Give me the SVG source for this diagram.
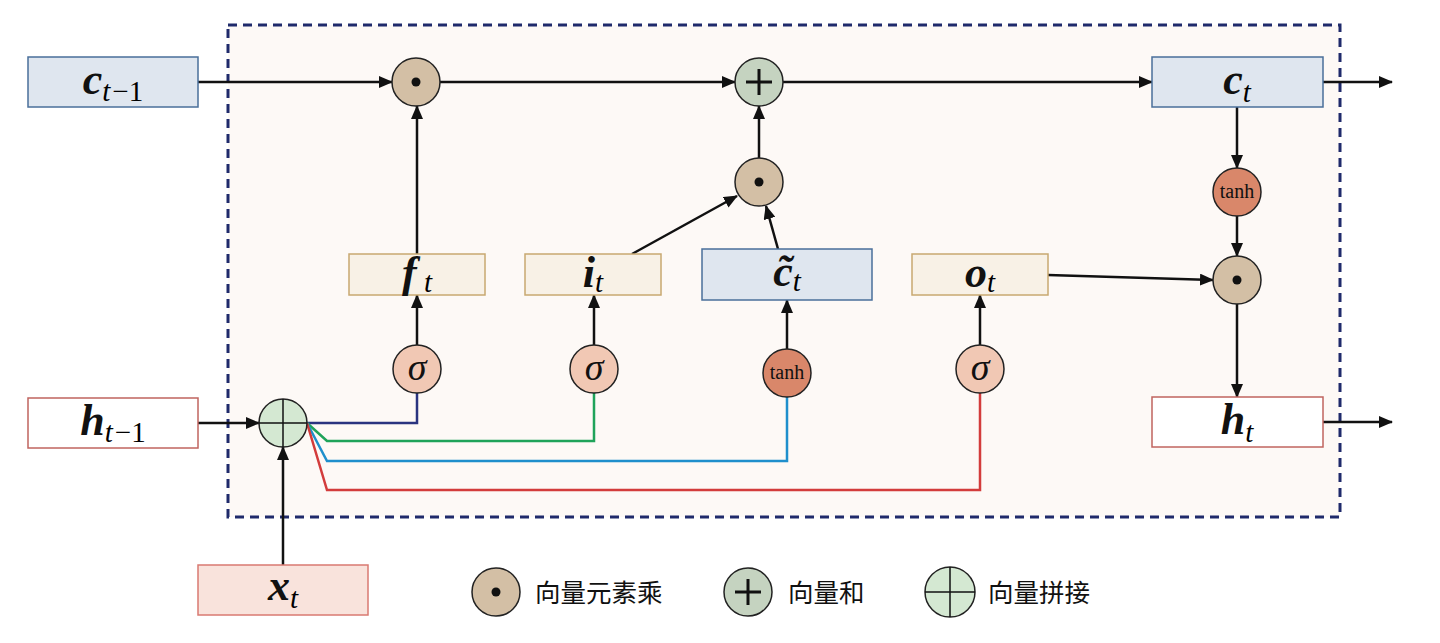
<svg xmlns="http://www.w3.org/2000/svg" width="1440" height="643" viewBox="0 0 1440 643">
<defs>
<marker id="ah" markerWidth="14" markerHeight="12" refX="13" refY="6" orient="auto" markerUnits="userSpaceOnUse">
<path d="M0,0 L14,6 L0,12 Z" fill="#111"/>
</marker>
<style>
.frame{fill:#fdf9f6;stroke:#1f2a6b;stroke-width:3;stroke-dasharray:9,6}
.blue{fill:#dfe6ef;stroke:#4a6f9a;stroke-width:1.5}
.gate{fill:#f8f1e6;stroke:#c8a870;stroke-width:1.5}
.hbox{fill:#ffffff;stroke:#c0645f;stroke-width:1.5}
.xbox{fill:#f9e3dc;stroke:#d97a72;stroke-width:1.5}
.mul{fill:#d3bfa5;stroke:#222;stroke-width:1.5}
.add{fill:#c5d3c0;stroke:#222;stroke-width:1.5}
.cat{fill:#d4e8d2;stroke:#222;stroke-width:1.5}
.sig{fill:#f1c8b4;stroke:#222;stroke-width:1.5}
.tanh{fill:#d9876a;stroke:#222;stroke-width:1.5}
.ar{stroke:#111;stroke-width:2.5;fill:none;marker-end:url(#ah)}
.ln{stroke-width:2.5;fill:none}
.m{font-family:"Liberation Serif","DejaVu Serif",serif;font-weight:bold;font-style:italic;font-size:44px;fill:#111}
.s{font-family:"Liberation Serif","DejaVu Serif",serif;font-style:italic;font-weight:normal;font-size:29px}
.su{font-family:"Liberation Serif","DejaVu Serif",serif;font-style:normal;font-weight:normal;font-size:29px}
.t{font-family:"Liberation Serif","DejaVu Serif",serif;font-size:20px;fill:#111}
.g{font-family:"Liberation Serif","DejaVu Serif",serif;font-style:italic;font-size:38px;fill:#111}
.leg{font-family:"Noto Sans CJK SC","Liberation Sans",sans-serif;font-size:25.5px;fill:#111}
.dot{fill:#111}
.sym{stroke:#111;stroke-width:3}
.symt{stroke:#111;stroke-width:1.5}
</style>
</defs>
<rect class="frame" x="228" y="25" width="1112" height="492"/>
<g id="connectors">
<line class="ar" x1="198" y1="82" x2="392" y2="82"/>
<line class="ar" x1="440" y1="82" x2="735" y2="82"/>
<line class="ar" x1="783" y1="82" x2="1152" y2="82"/>
<line class="ar" x1="1323" y1="82" x2="1392" y2="82"/>
<line class="ar" x1="417" y1="254" x2="417" y2="106"/>
<line class="ar" x1="417" y1="345" x2="417" y2="295"/>
<line class="ar" x1="594" y1="345" x2="594" y2="295"/>
<line class="ar" x1="787" y1="349" x2="787" y2="300"/>
<line class="ar" x1="980" y1="345" x2="980" y2="295"/>
<line class="ar" x1="632" y1="254" x2="737" y2="196"/>
<line class="ar" x1="778" y1="249" x2="766" y2="206"/>
<line class="ar" x1="759" y1="158" x2="759" y2="106"/>
<line class="ar" x1="1048" y1="275" x2="1213" y2="280"/>
<line class="ar" x1="1237" y1="107" x2="1237" y2="168"/>
<line class="ar" x1="1237" y1="216" x2="1237" y2="256"/>
<line class="ar" x1="1237" y1="304" x2="1237" y2="397"/>
<line class="ar" x1="1323" y1="422" x2="1392" y2="422"/>
<line class="ar" x1="198" y1="423" x2="259" y2="423"/>
<line class="ar" x1="283" y1="565" x2="283" y2="447"/>
<polyline class="ln" stroke="#2a3480" points="307,423 417,423 417,393"/>
<polyline class="ln" stroke="#1fa35a" points="307,423 327,441 594,441 594,393"/>
<polyline class="ln" stroke="#1f8fcc" points="307,423 327,461 787,461 787,397"/>
<polyline class="ln" stroke="#d33c3c" points="307,423 327,490 980,490 980,393"/>
</g>
<g id="c_prev"><rect class="blue" x="28" y="57" width="170" height="50"/><text x="113" y="94" text-anchor="middle"><tspan class="m">c</tspan><tspan class="s" dy="7">t</tspan><tspan class="su" dx="2">−1</tspan></text></g>
<g id="h_prev"><rect class="hbox" x="28" y="398" width="170" height="50"/><text x="113" y="435" text-anchor="middle"><tspan class="m">h</tspan><tspan class="s" dy="7">t</tspan><tspan class="su" dx="2">−1</tspan></text></g>
<g id="x_t"><rect class="xbox" x="198" y="565" width="170" height="50"/><text x="283" y="600" text-anchor="middle"><tspan class="m">x</tspan><tspan class="s" dy="8">t</tspan></text></g>
<g id="c_t"><rect class="blue" x="1152" y="57" width="171" height="50"/><text x="1237" y="94" text-anchor="middle"><tspan class="m">c</tspan><tspan class="s" dy="8">t</tspan></text></g>
<g id="h_t"><rect class="hbox" x="1152" y="397" width="171" height="50"/><text x="1237" y="434" text-anchor="middle"><tspan class="m">h</tspan><tspan class="s" dy="8">t</tspan></text></g>
<g id="f_t"><rect class="gate" x="349" y="254" width="136" height="41"/><text x="417" y="287" text-anchor="middle"><tspan class="m">f</tspan><tspan class="s" dy="5"> t</tspan></text></g>
<g id="i_t"><rect class="gate" x="525" y="254" width="136" height="41"/><text x="593" y="287" text-anchor="middle"><tspan class="m">i</tspan><tspan class="s" dy="5">t</tspan></text></g>
<g id="ctilde_t"><rect class="blue" x="702" y="249" width="170" height="51"/><text x="787" y="286" text-anchor="middle"><tspan class="m">c̃</tspan><tspan class="s" dy="5">t</tspan></text></g>
<g id="o_t"><rect class="gate" x="912" y="254" width="136" height="41"/><text x="980" y="287" text-anchor="middle"><tspan class="m">o</tspan><tspan class="s" dy="5">t</tspan></text></g>
<g id="mul_f"><circle class="mul" cx="416" cy="82" r="24"/><circle class="dot" cx="416" cy="82" r="4.5"/></g>
<g id="add_c"><circle class="add" cx="759" cy="82" r="24"/><line class="sym" x1="746" y1="82" x2="772" y2="82"/><line class="sym" x1="759" y1="69" x2="759" y2="95"/></g>
<g id="mul_i"><circle class="mul" cx="759" cy="182" r="24"/><circle class="dot" cx="759" cy="182" r="4.5"/></g>
<g id="tanh_c"><circle class="tanh" cx="1237" cy="192" r="24"/><text class="t" x="1237" y="198" text-anchor="middle">tanh</text></g>
<g id="mul_o"><circle class="mul" cx="1237" cy="280" r="24"/><circle class="dot" cx="1237" cy="280" r="4.5"/></g>
<g id="sig_f"><circle class="sig" cx="417" cy="369" r="24"/><text class="g" x="417" y="380" text-anchor="middle">σ</text></g>
<g id="sig_i"><circle class="sig" cx="594" cy="369" r="24"/><text class="g" x="594" y="380" text-anchor="middle">σ</text></g>
<g id="tanh_g"><circle class="tanh" cx="787" cy="373" r="24"/><text class="t" x="787" y="379" text-anchor="middle">tanh</text></g>
<g id="sig_o"><circle class="sig" cx="980" cy="369" r="24"/><text class="g" x="980" y="380" text-anchor="middle">σ</text></g>
<g id="concat"><circle class="cat" cx="283" cy="423" r="24"/><line class="symt" x1="259" y1="423" x2="307" y2="423"/><line class="symt" x1="283" y1="399" x2="283" y2="447"/></g>
<g id="legend_mul"><circle class="mul" cx="496" cy="592" r="24"/><circle class="dot" cx="496" cy="592" r="4.5"/><text class="leg" x="535" y="602">向量元素乘</text></g>
<g id="legend_add"><circle class="add" cx="748" cy="592" r="24"/><line class="sym" x1="735" y1="592" x2="761" y2="592"/><line class="sym" x1="748" y1="579" x2="748" y2="605"/><text class="leg" x="788" y="602">向量和</text></g>
<g id="legend_cat"><circle class="cat" cx="950" cy="592" r="25"/><line class="symt" x1="925" y1="592" x2="975" y2="592"/><line class="symt" x1="950" y1="567" x2="950" y2="617"/><text class="leg" x="988" y="602">向量拼接</text></g>
</svg>
